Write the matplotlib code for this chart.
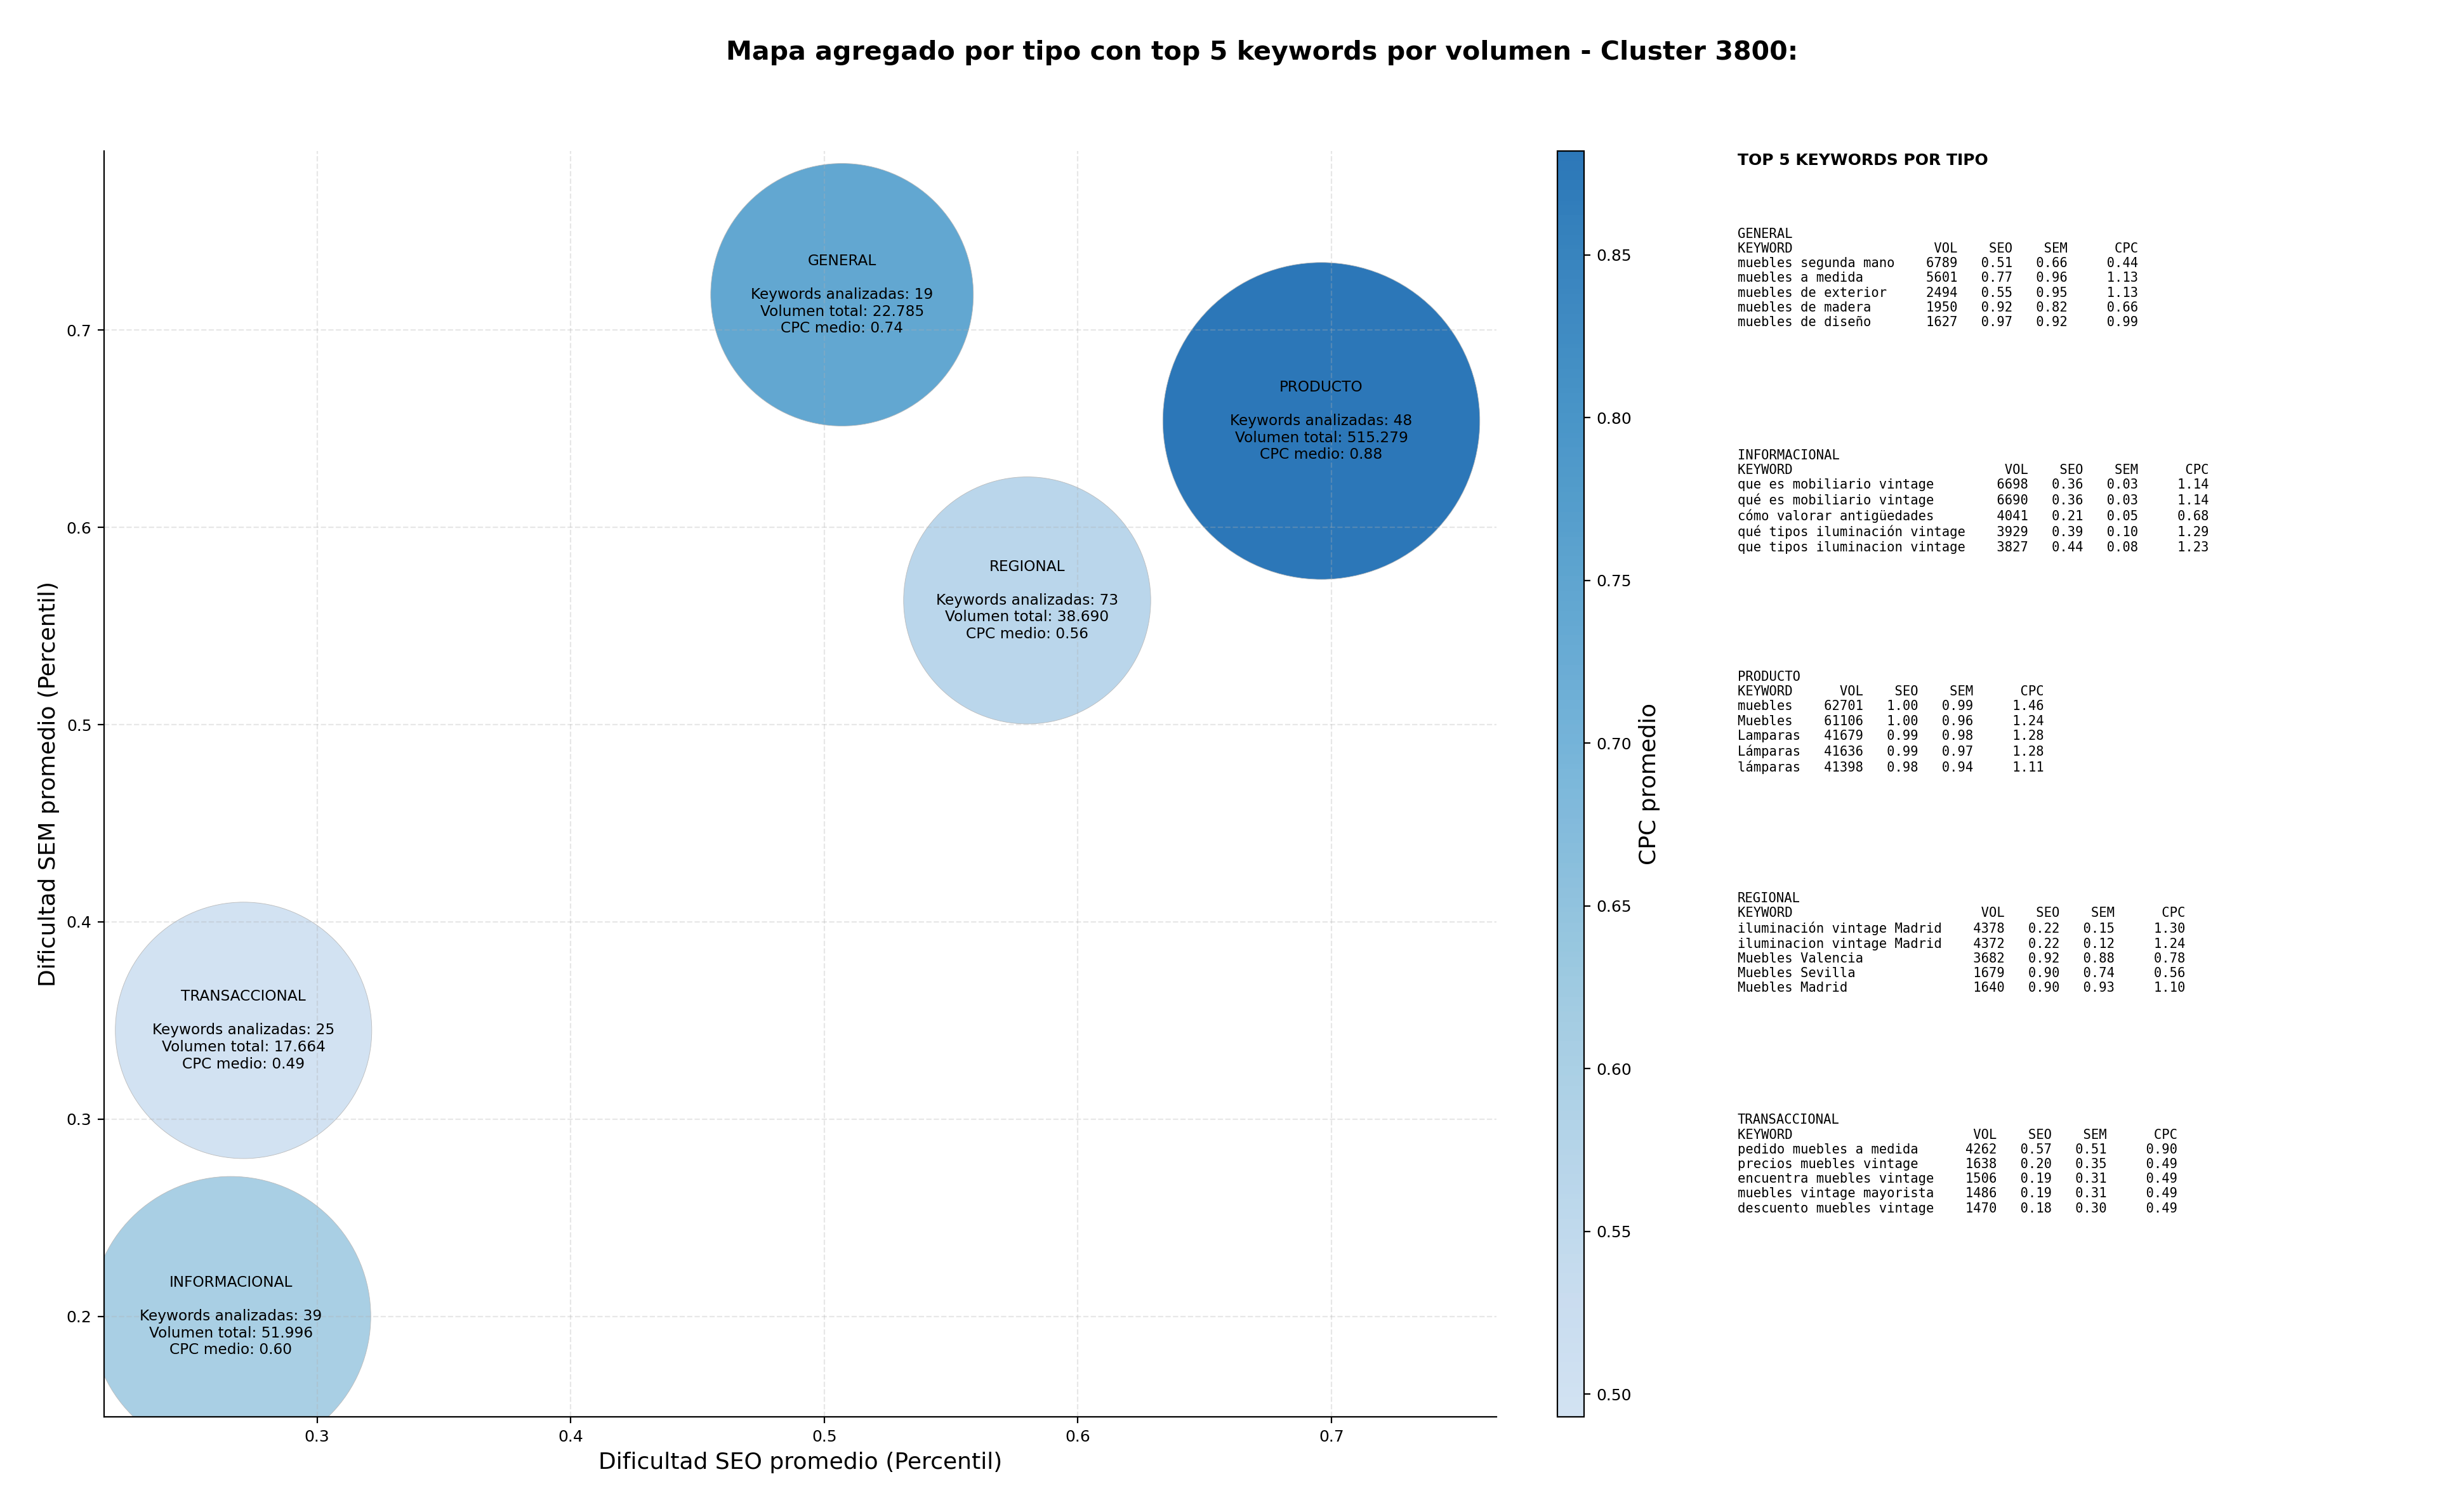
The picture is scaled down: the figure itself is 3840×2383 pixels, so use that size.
import numpy as np
import matplotlib
matplotlib.use('Agg')
import matplotlib.pyplot as plt
from matplotlib.colors import LinearSegmentedColormap

# Aggregated values per keyword type
tipos = ['GENERAL', 'INFORMACIONAL', 'PRODUCTO', 'REGIONAL', 'TRANSACCIONAL']
seo_medio = [0.507, 0.266, 0.696, 0.580, 0.271]
sem_medio = [0.718, 0.200, 0.654, 0.563, 0.345]
n_keywords = [19, 39, 48, 73, 25]
vol_total = [22785, 51996, 515279, 38690, 17664]
cpc_medio = [0.741, 0.602, 0.882, 0.562, 0.493]
tam_burbuja = [22200, 25190, 32330, 19650, 21160]

# Top 5 keywords per type: (keyword, vol, seo, sem, cpc)
top_general = [
    ('muebles segunda mano', 6789, 0.51, 0.66, 0.44),
    ('muebles a medida', 5601, 0.77, 0.96, 1.13),
    ('muebles de exterior', 2494, 0.55, 0.95, 1.13),
    ('muebles de madera', 1950, 0.92, 0.82, 0.66),
    ('muebles de diseño', 1627, 0.97, 0.92, 0.99),
]
top_informacional = [
    ('que es mobiliario vintage', 6698, 0.36, 0.03, 1.14),
    ('qué es mobiliario vintage', 6690, 0.36, 0.03, 1.14),
    ('cómo valorar antigüedades', 4041, 0.21, 0.05, 0.68),
    ('qué tipos iluminación vintage', 3929, 0.39, 0.10, 1.29),
    ('que tipos iluminacion vintage', 3827, 0.44, 0.08, 1.23),
]
top_producto = [
    ('muebles', 62701, 1.00, 0.99, 1.46),
    ('Muebles', 61106, 1.00, 0.96, 1.24),
    ('Lamparas', 41679, 0.99, 0.98, 1.28),
    ('Lámparas', 41636, 0.99, 0.97, 1.28),
    ('lámparas', 41398, 0.98, 0.94, 1.11),
]
top_regional = [
    ('iluminación vintage Madrid', 4378, 0.22, 0.15, 1.30),
    ('iluminacion vintage Madrid', 4372, 0.22, 0.12, 1.24),
    ('Muebles Valencia', 3682, 0.92, 0.88, 0.78),
    ('Muebles Sevilla', 1679, 0.90, 0.74, 0.56),
    ('Muebles Madrid', 1640, 0.90, 0.93, 1.10),
]
top_transaccional = [
    ('pedido muebles a medida', 4262, 0.57, 0.51, 0.90),
    ('precios muebles vintage', 1638, 0.20, 0.35, 0.49),
    ('encuentra muebles vintage', 1506, 0.19, 0.31, 0.49),
    ('muebles vintage mayorista', 1486, 0.19, 0.31, 0.49),
    ('descuento muebles vintage', 1470, 0.18, 0.30, 0.49),
]
tops = [top_general, top_informacional, top_producto, top_regional, top_transaccional]

cmap = LinearSegmentedColormap.from_list(
    'blues_trunc', plt.cm.Blues(np.linspace(0.2, 0.75, 256)))

fig = plt.figure(figsize=(19.2, 11.915), dpi=200)
ax = fig.add_axes([0.0427, 0.0629, 0.5713, 0.8374])

sc = ax.scatter(seo_medio, sem_medio, s=tam_burbuja, c=cpc_medio, cmap=cmap,
                alpha=0.95, edgecolors='#b8b8b8', linewidths=0.3)

for t, x, y, n, v, c in zip(tipos, seo_medio, sem_medio, n_keywords, vol_total, cpc_medio):
    vol_txt = f'{v:,}'.replace(',', '.')
    label = f'{t}\n\nKeywords analizadas: {n}\nVolumen total: {vol_txt}\nCPC medio: {c:.2f}'
    ax.text(x, y, label, ha='center', va='center', fontsize=8.4)

ax.set_xlim(0.216, 0.765)
ax.set_ylim(0.149, 0.791)
ax.set_xlabel('Dificultad SEO promedio (Percentil)', fontsize=13)
ax.set_ylabel('Dificultad SEM promedio (Percentil)', fontsize=13)
ax.tick_params(labelsize=9)
ax.grid(True, linestyle='--', alpha=0.3)
ax.spines['top'].set_visible(False)
ax.spines['right'].set_visible(False)

cax = fig.add_axes([0.639, 0.0629, 0.0109, 0.8374])
cb = fig.colorbar(sc, cax=cax)
cb.set_label('CPC promedio', fontsize=13)
cb.ax.tick_params(labelsize=9)

fig.suptitle('Mapa agregado por tipo con top 5 keywords por volumen - Cluster 3800:',
             fontsize=14.8, fontweight='bold', x=0.518, y=0.965, va='center')

# Text panel with top keywords
fig.text(0.713, 0.894, 'TOP 5 KEYWORDS POR TIPO', fontsize=9, fontweight='bold',
         va='center', ha='left')

for i, (t, rows) in enumerate(zip(tipos, tops)):
    w = max(len(r[0]) for r in rows)
    lines = [t, 'KEYWORD'.ljust(w) + 'VOL'.rjust(8) + 'SEO'.rjust(7)
             + 'SEM'.rjust(7) + 'CPC'.rjust(9)]
    for kw, vol, seo, sem, cpc in rows:
        lines.append(kw.ljust(w) + str(vol).rjust(8) + f'{seo:.2f}'.rjust(7)
                     + f'{sem:.2f}'.rjust(7) + f'{cpc:.2f}'.rjust(9))
    fig.text(0.713, 0.8494 - i * 0.1465, '\n'.join(lines), family='DejaVu Sans Mono',
             fontsize=7.4, va='top', ha='left')

fig.savefig('out.png', dpi=200)
